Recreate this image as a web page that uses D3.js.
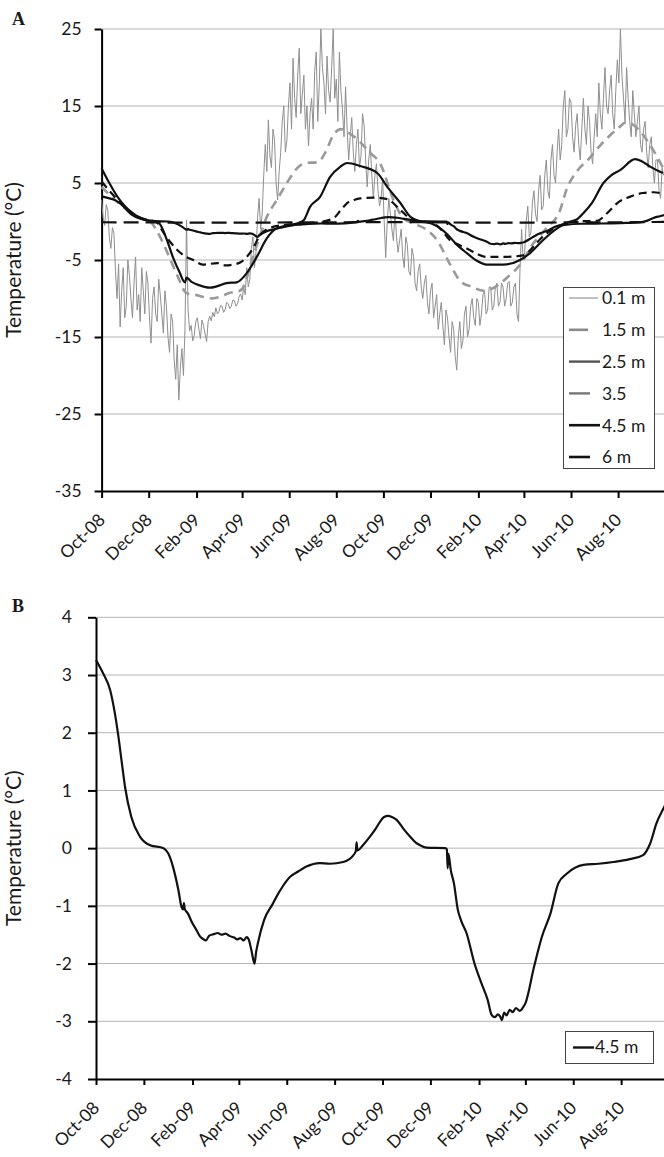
<!DOCTYPE html>
<html><head><meta charset="utf-8">
<script src="https://cdn.jsdelivr.net/npm/d3@7"></script>
<style>
body{margin:0;background:#fff}
svg{display:block}
text{font-family:Lato,"Open Sans",sans-serif;fill:#1a1a1a}
</style>
</head><body>
<svg id="c" width="664" height="1157"></svg>
<script>
// ---------- DATA ----------
const tickMonths = ["2008-10-01","2008-12-01","2009-02-01","2009-04-01","2009-06-01","2009-08-01","2009-10-01","2009-12-01","2010-02-01","2010-04-01","2010-06-01","2010-08-01"];
const yTicksA = [-35,-25,-15,-5,5,15,25];
const yTicksB = [-4,-3,-2,-1,0,1,2,3,4];
const legendLabelsA = ["0.1 m","1.5 m","2.5 m","3.5","4.5 m","6 m"];
const legendLabelB = "4.5 m";

// 0.1 m : one reading every 2 days from 1 Oct 2008
const surfaceStart = "2008-10-01";
const surfaceStepDays = 2;
const t01 = [
2.8,0.5,-0.5,2.2,1.5,-2,-3.5,-0.8,-1.5,-6.5,
-10,-5.5,-13.7,-9,-6,-12.5,-11,-5,-7,-10,
-12.5,-8,-4.6,-11.5,-9.5,-13,-6,-9,-12,-6.5,
-8,-12.5,-15.8,-10,-8.5,-12,-13,-7.5,-9.5,-12,
-14.5,-9,-11,-15,-17,-12,-13,-18,-20.5,-16,
-23.2,-19,-16.5,-20,-14,0.2,-11.5,-14.2,-13.5,-15.5,
-14.8,-13,-12.5,-14,-15.2,-12.8,-13.5,-14.6,-15.6,-13,
-12.3,-12.9,-11.8,-12.4,-11.2,-12,-11.7,-10.9,-11,-11.8,
-11.4,-10.5,-10.7,-11.3,-11,-10.2,-10.3,-11,-10.7,-9.8,
-9.4,-10.2,-8.5,-9.5,-6,-8.5,-7.5,-3.5,-2,-6,
-4,0.5,3,-1,1,6,10,6.5,13.2,8.5,
7,12,10.5,5,2.8,6.5,9,13,15,9,
10.5,15,18,12,21.2,16,13.5,19,22.5,14,
16.5,19,12,15,9.8,14,16,12,19.5,22,
13,18,25,20,18,14,21.5,17,15.5,20,
25,16,18.5,13,22,17,14.5,11,17.5,12,
8,11,13.5,9,6.5,10,12,7,8.5,14,
12.5,8,4.5,8,10,6,3,6,7.5,4,
2,3,5.6,0,-4.7,0,3,1,-1,-2.5,
1.5,-2,-4,-2.5,-1,-4.5,-6,-2,-3,-6.5,
-7,-3.5,-4.5,-8,-9,-6.5,-5.5,-8.5,-10,-8,
-7,-10.5,-12,-9,-8,-12.5,-11,-9.5,-14,-12,
-10.5,-13.5,-16,-11.5,-12.5,-15,-17,-13,-14,-17.5,
-19.3,-15,-13,-16.5,-15.5,-12,-11,-15,-14,-11,
-10,-12.5,-13.5,-10,-10.5,-13.5,-12,-9.5,-9,-12,
-11.5,-8.5,-8.5,-11.5,-11,-8.5,-8,-11,-10.5,-8,
-8.5,-11,-10,-8,-7.8,-11,-10.5,-8.5,-8,-12,
-13,-6,-1,-5,-4,0,2,-2,-1.5,2.5,
4,1,0,4,6,1.5,2,6,8,4,
3,8,10,6,5,9,12,8,10,15,
17,11,12,16,15.5,11,9,12.5,14,10,
8,12,16,12,10,15,13,9,7.5,11,
14,11,18,14,12,16,20,15,14,17,
19,14,12,17,21,18,25,19,16,13,
20,16,13,11,17,14,11,13,15,10,
9,12,13,9,7,10,11,7,5,8,
8,4,3,7,6];

const d15 = ["2008-10-01","2008-10-16","2008-11-03","2008-11-20","2008-12-03","2008-12-12","2008-12-25","2009-01-07","2009-01-19","2009-02-03","2009-02-18","2009-03-03","2009-03-15","2009-03-29","2009-04-05","2009-04-11","2009-04-22","2009-05-03","2009-05-16","2009-05-29","2009-06-11","2009-06-23","2009-07-08","2009-07-18","2009-07-28","2009-08-07","2009-08-17","2009-08-30","2009-09-13","2009-09-27","2009-10-14","2009-10-26","2009-11-10","2009-11-25","2009-12-10","2009-12-26","2010-01-09","2010-01-24","2010-02-08","2010-02-23","2010-03-10","2010-03-30","2010-04-10","2010-04-29","2010-05-18","2010-05-26","2010-06-10","2010-06-23","2010-07-09","2010-08-01","2010-08-12","2010-08-27","2010-09-11","2010-09-28"];
const t15 = [4.5,3.0,1.5,0.5,0.0,-1.3,-4.0,-7.0,-9.3,-9.6,-10.0,-9.8,-9.3,-9.0,-8.0,-5.9,-2.5,0.6,2.8,5.0,6.9,7.6,7.7,9.0,11.2,12.0,11.5,10.5,9.0,7.5,2.8,0.5,-0.3,-1.0,-2.5,-5.5,-7.8,-8.5,-9.0,-8.5,-7.3,-5.2,-3.3,-1.0,1.5,4.1,6.7,8.0,9.9,12.1,12.9,12.0,10.0,7.0];

const d25 = ["2008-10-01","2008-10-11","2008-10-21","2008-10-31","2008-11-10","2008-11-20","2008-11-30","2008-12-10","2008-12-16","2008-12-25","2009-01-02","2009-01-10","2009-01-17","2009-01-19","2009-01-25","2009-02-05","2009-02-18","2009-02-28","2009-03-12","2009-03-25","2009-04-07","2009-04-20","2009-05-03","2009-05-14","2009-05-29","2009-06-13","2009-06-20","2009-06-28","2009-07-11","2009-07-24","2009-08-06","2009-08-15","2009-09-01","2009-09-23","2009-10-06","2009-10-23","2009-11-05","2009-11-18","2009-12-03","2009-12-15","2009-12-22","2010-01-04","2010-01-17","2010-01-30","2010-02-12","2010-03-05","2010-03-27","2010-04-09","2010-04-26","2010-05-14","2010-05-31","2010-06-09","2010-06-18","2010-06-28","2010-07-13","2010-07-23","2010-08-04","2010-08-23","2010-09-01","2010-09-12","2010-09-28"];
const t25 = [6.9,5.0,3.3,2.0,1.1,0.5,0.15,0.0,-0.4,-2.5,-4.8,-6.6,-7.9,-7.3,-7.8,-8.3,-8.6,-8.4,-8.0,-7.9,-6.7,-4.6,-2.2,-1.0,-0.5,-0.2,0.2,1.9,3.2,5.8,7.1,7.6,7.2,6.3,4.5,2.4,0.6,0.0,-0.3,-1.0,-1.6,-3.0,-4.1,-5.1,-5.6,-5.6,-5.0,-4.1,-2.4,-0.9,0.0,0.3,1.2,2.4,5.0,6.0,6.7,8.1,7.8,7.1,6.3];

const d35 = ["2008-10-01","2008-10-11","2008-10-21","2008-10-31","2008-11-10","2008-11-20","2008-11-30","2008-12-10","2008-12-20","2008-12-30","2009-01-07","2009-01-17","2009-01-28","2009-02-09","2009-02-28","2009-03-10","2009-03-20","2009-03-30","2009-04-07","2009-04-15","2009-04-24","2009-05-03","2009-05-11","2009-05-29","2009-06-15","2009-07-08","2009-07-28","2009-08-07","2009-08-15","2009-08-24","2009-09-01","2009-09-18","2009-10-06","2009-10-23","2009-11-08","2009-11-24","2009-12-09","2009-12-17","2009-12-26","2010-01-06","2010-01-17","2010-01-30","2010-02-12","2010-03-05","2010-03-31","2010-04-13","2010-04-22","2010-05-01","2010-05-18","2010-06-06","2010-07-05","2010-07-18","2010-07-31","2010-08-16","2010-09-02","2010-09-16","2010-09-28"];
const t35 = [5.2,4.0,2.9,1.9,1.1,0.5,0.2,0.0,-1.4,-2.8,-3.7,-4.5,-5.0,-5.6,-5.4,-5.7,-5.6,-5.3,-4.6,-3.5,-1.8,-1.0,-0.7,-0.4,-0.3,-0.1,0.4,1.5,2.4,2.8,3.0,3.1,2.9,1.5,0.2,0.0,-0.5,-1.3,-2.4,-3.0,-3.5,-4.2,-4.6,-4.6,-4.4,-3.3,-2.3,-1.5,-0.5,0.0,0.1,1.1,2.4,3.2,3.7,3.8,3.6];

const d45 = ["2008-10-01","2008-10-10","2008-10-19","2008-10-25","2008-10-29","2008-11-03","2008-11-07","2008-11-15","2008-11-26","2008-12-09","2008-12-26","2009-01-01","2009-01-07","2009-01-14","2009-01-18","2009-01-20","2009-01-21","2009-01-22","2009-01-26","2009-01-31","2009-02-06","2009-02-10","2009-02-14","2009-02-18","2009-02-22","2009-02-28","2009-03-05","2009-03-10","2009-03-15","2009-03-20","2009-03-26","2009-03-30","2009-04-03","2009-04-07","2009-04-11","2009-04-14","2009-04-17","2009-04-21","2009-04-23","2009-04-25","2009-05-03","2009-05-14","2009-05-19","2009-05-27","2009-06-05","2009-06-16","2009-06-26","2009-07-13","2009-07-26","2009-08-12","2009-08-25","2009-08-28","2009-08-29","2009-08-30","2009-09-06","2009-09-15","2009-09-22","2009-09-28","2009-10-03","2009-10-08","2009-10-13","2009-10-19","2009-10-28","2009-11-05","2009-11-12","2009-11-18","2009-11-26","2009-12-20","2009-12-22","2009-12-23","2009-12-24","2009-12-27","2009-12-31","2010-01-05","2010-01-09","2010-01-16","2010-01-26","2010-02-04","2010-02-12","2010-02-17","2010-02-21","2010-02-25","2010-02-28","2010-03-02","2010-03-05","2010-03-08","2010-03-12","2010-03-16","2010-03-20","2010-03-25","2010-03-29","2010-04-01","2010-04-12","2010-04-22","2010-05-03","2010-05-13","2010-05-24","2010-06-14","2010-07-03","2010-07-22","2010-08-12","2010-08-29","2010-09-07","2010-09-15","2010-09-24","2010-09-30"];
const t45 = [3.26,3.03,2.74,2.34,1.99,1.47,1.06,0.54,0.20,0.05,0.0,-0.09,-0.32,-0.73,-1.02,-1.06,-0.95,-1.05,-1.13,-1.28,-1.42,-1.52,-1.57,-1.6,-1.52,-1.49,-1.47,-1.5,-1.48,-1.52,-1.55,-1.58,-1.56,-1.6,-1.54,-1.6,-1.77,-2.0,-1.8,-1.66,-1.25,-0.97,-0.84,-0.66,-0.5,-0.4,-0.32,-0.26,-0.27,-0.24,-0.12,-0.05,0.1,-0.04,0.05,0.2,0.33,0.46,0.54,0.56,0.54,0.49,0.33,0.2,0.1,0.05,0.01,0.0,-0.02,-0.35,-0.1,-0.38,-0.61,-1.07,-1.25,-1.47,-1.99,-2.34,-2.63,-2.89,-2.93,-2.88,-2.92,-2.98,-2.85,-2.9,-2.8,-2.84,-2.77,-2.82,-2.76,-2.69,-2.06,-1.54,-1.13,-0.61,-0.44,-0.29,-0.27,-0.24,-0.19,-0.12,0.08,0.43,0.69,0.85];

const d6 = ["2008-10-01","2008-12-01","2009-02-01","2009-04-01","2009-06-01","2009-08-01","2009-10-01","2009-12-01","2010-02-01","2010-04-01","2010-06-01","2010-08-01","2010-09-30"];
const t6 = [-0.1,-0.12,-0.15,-0.15,-0.12,-0.1,-0.08,-0.1,-0.15,-0.15,-0.12,-0.1,-0.05];

// ---------- HELPERS ----------
const parse = d3.timeParse("%Y-%m-%d");
const fmt = d3.timeFormat("%b-%y");
const zip = (ds, vs) => ds.map((d,i)=>({date:parse(d), v:vs[i]}));
const s0 = parse(surfaceStart);
const surf = t01.map((v,i)=>({date:d3.timeDay.offset(s0, i*surfaceStepDays), v}));
const ticks = tickMonths.map(parse);
const START = parse("2008-10-01"), END = parse("2010-10-01");
const FS = 17.5;

const svg = d3.select("#c");

function panel(cfg){
  const g = svg.append("g");
  const x = d3.scaleTime().domain([START, END]).range([cfg.x0, cfg.x1]);
  const y = d3.scaleLinear().domain(cfg.ydom).range([cfg.yb, cfg.yt]);
  g.append("g").selectAll("line").data(cfg.yticks.filter(t=>t!==cfg.ydom[0])).join("line")
    .attr("x1", cfg.x0).attr("x2", 664).attr("y1", d=>y(d)).attr("y2", d=>y(d))
    .attr("stroke", "#b4b4b4").attr("stroke-width", 1);
  const ya = g.append("g").attr("transform", `translate(${cfg.x0},0)`)
    .call(d3.axisLeft(y).tickValues(cfg.yticks).tickSize(cfg.ytick).tickSizeOuter(0).tickPadding(cfg.ypad).tickFormat(d=>String(d)));
  ya.select(".domain").attr("stroke","#000").attr("stroke-width",2);
  ya.selectAll(".tick line").attr("stroke","#000").attr("stroke-width",2);
  ya.selectAll(".tick text").attr("font-size", FS).attr("font-family","Lato").attr("fill","#1a1a1a");
  const xa = g.append("g").attr("transform", `translate(0,${cfg.yb})`)
    .call(d3.axisBottom(x).tickValues(ticks).tickSize(cfg.xtick).tickSizeOuter(0).tickFormat(fmt));
  xa.select(".domain").attr("stroke","#000").attr("stroke-width",2);
  xa.selectAll(".tick line").attr("stroke","#000").attr("stroke-width",2);
  xa.selectAll(".tick text").attr("font-size", FS).attr("font-family","Lato").attr("fill","#1a1a1a")
    .attr("text-anchor","end").attr("dy", null).attr("y", 0)
    .attr("transform", "translate(4,30) rotate(-45)");
  g.append("text").attr("transform", `translate(${cfg.titleX},${(cfg.yt+cfg.yb)/2}) rotate(-90)`)
    .attr("text-anchor","middle").attr("font-size", 21).text("Temperature (°C)");
  g.append("text").attr("x", 12).attr("y", cfg.letterY)
    .attr("font-weight","bold").attr("font-size", 18).style("font-family","'Liberation Serif',serif").text(cfg.letter);
  return {g, x, y};
}

// ---------- PANEL A ----------
const A = panel({x0:101.6, x1:665.2, yt:29, yb:491, ydom:[-35,25], yticks:yTicksA, ytick:7, ypad:13, xtick:7, titleX:21, letter:"A", letterY:25});
const lineA = d3.line().x(d=>A.x(d.date)).y(d=>A.y(d.v));
const lineAs = d3.line().curve(d3.curveMonotoneX).x(d=>A.x(d.date)).y(d=>A.y(d.v));
const seriesA = [
  {data:surf, gen:lineA, color:"#8f8f8f", w:1, dash:null},
  {data:zip(d15,t15), gen:lineAs, color:"#9a9a9a", w:2.6, dash:"9,6"},
  {data:zip(d6,t6), gen:lineAs, color:"#111", w:2.2, dash:"15,7"},
  {data:zip(d45,t45), gen:lineAs, color:"#111", w:2.2, dash:null},
  {data:zip(d35,t35), gen:lineAs, color:"#111", w:2.2, dash:"8,5"},
  {data:zip(d25,t25), gen:lineAs, color:"#111", w:2.2, dash:null}
];
seriesA.forEach(s=>{
  A.g.append("path").attr("d", s.gen(s.data)).attr("fill","none").attr("stroke",s.color)
    .attr("stroke-width",s.w).attr("stroke-dasharray",s.dash).attr("stroke-linejoin","round");
});
const legA = A.g.append("g");
legA.append("rect").attr("x",563.5).attr("y",287.5).attr("width",91).attr("height",181)
  .attr("fill","#fff").attr("stroke","#444").attr("stroke-width",1);
const legStyles = [
  {color:"#a0a0a0", w:1.3, x2:598},
  {color:"#8a8a8a", w:2.6, x2:588},
  {color:"#555", w:2.4, x2:600},
  {color:"#777", w:2.4, x2:590},
  {color:"#111", w:2.6, x2:600},
  {color:"#111", w:2.6, x2:590}
];
legendLabelsA.forEach((lab,i)=>{
  const cy = 298 + i*31.8;
  const st = legStyles[i];
  legA.append("line").attr("x1",569).attr("x2",st.x2).attr("y1",cy).attr("y2",cy)
    .attr("stroke",st.color).attr("stroke-width",st.w);
  legA.append("text").attr("x",602).attr("y",cy+6.3).attr("font-size",FS).text(lab);
});

// ---------- PANEL B ----------
const B = panel({x0:96, x1:669, yt:617.3, yb:1079, ydom:[-4,4], yticks:yTicksB, ytick:8, ypad:16, xtick:6, titleX:21, letter:"B", letterY:612});
const lineB = d3.line().curve(d3.curveMonotoneX).x(d=>B.x(d.date)).y(d=>B.y(d.v));
B.g.append("path").attr("d", lineB(zip(d45,t45))).attr("fill","none").attr("stroke","#111")
  .attr("stroke-width",2.2).attr("stroke-linejoin","round");
const legB = B.g.append("g");
legB.append("rect").attr("x",565.5).attr("y",1031.5).attr("width",88).attr("height",32)
  .attr("fill","#fff").attr("stroke","#444").attr("stroke-width",1);
legB.append("line").attr("x1",573).attr("x2",594).attr("y1",1047.5).attr("y2",1047.5)
  .attr("stroke","#111").attr("stroke-width",2.4);
legB.append("text").attr("x",595).attr("y",1053).attr("font-size",FS).text(legendLabelB);
</script>
</body></html>
